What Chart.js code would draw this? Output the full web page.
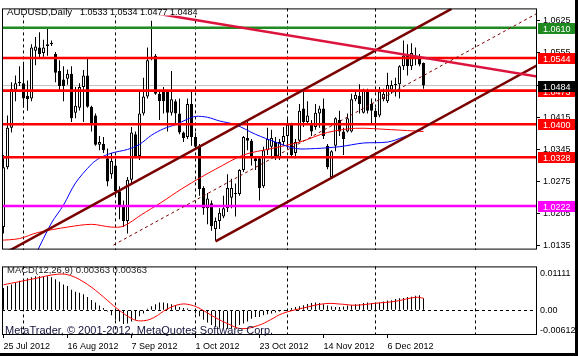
<!DOCTYPE html>
<html><head><meta charset="utf-8">
<script src="https://cdn.jsdelivr.net/npm/chart.js@4.4.1/dist/chart.umd.min.js"></script>
<style>
html,body{margin:0;padding:0;background:#000;width:578px;height:356px;overflow:hidden;}
#wrap{position:absolute;left:0;top:0;width:575px;height:353px;background:#fff;}
canvas{position:absolute;left:0;}
#main{top:0;}
#macd{top:258px;}
</style></head><body>
<div id="wrap"><canvas id="main" width="575" height="258"></canvas><canvas id="macd" width="575" height="95"></canvas></div>
<script>
// ---------- data ----------
const symbolTitle = 'AUDUSD,Daily';
const dateLabels = ['25 Jul 2012','16 Aug 2012','7 Sep 2012','1 Oct 2012','23 Oct 2012','14 Nov 2012','6 Dec 2012'];
const dateIdx = [0,16,32,48,64,80,96];
const gridIdx = [5,28,48,71,93,118];
const priceTicks = [1.0625,1.0555,1.0485,1.0415,1.0345,1.0275,1.0205,1.0135];
const macdTicks = [0.01111,0,-0.00612];
const macdTickLabels = ['0.01111','0.00','-0.00612'];

const opens = [1.0176,1.0306,1.0392,1.0475,1.0489,1.0489,1.0462,1.0456,1.0560,1.0567,
1.0555,1.0570,1.0577,1.0553,1.0516,1.0497,1.0499,1.0510,1.0425,1.0436,
1.0481,1.0506,1.0438,1.0419,1.0355,1.0357,1.0326,1.0291,1.0310,1.0254,
1.0224,1.0189,1.0279,1.0378,1.0331,1.0423,1.0460,1.0543,1.0549,1.0466,
1.0471,1.0471,1.0425,1.0450,1.0423,1.0382,1.0372,1.0444,1.0372,1.0353,
1.0261,1.0217,1.0228,1.0172,1.0189,1.0199,1.0217,1.0240,1.0248,1.0248,
1.0300,1.0370,1.0364,1.0326,1.0326,1.0265,1.0343,1.0351,1.0361,1.0326,
1.0361,1.0374,1.0399,1.0337,1.0364,1.0434,1.0405,1.0403,1.0394,1.0423,
1.0434,1.0353,1.0285,1.0353,1.0409,1.0384,1.0384,1.0384,1.0454,1.0462,
1.0425,1.0473,1.0444,1.0429,1.0419,1.0454,1.0450,1.0475,1.0485,1.0487,
1.0526,1.0549,1.0526,1.0547,1.0547,1.0533];
const highs = [1.0333,1.0419,1.0491,1.0506,1.0526,1.0536,1.0495,1.0574,1.0590,1.0600,
1.0584,1.0609,1.0582,1.0557,1.0539,1.0526,1.0519,1.0526,1.0481,1.0489,
1.0518,1.0543,1.0440,1.0423,1.0374,1.0372,1.0347,1.0337,1.0320,1.0265,
1.0234,1.0285,1.0394,1.0384,1.0471,1.0501,1.0567,1.0625,1.0553,1.0475,
1.0481,1.0475,1.0516,1.0454,1.0456,1.0384,1.0456,1.0471,1.0382,1.0357,
1.0265,1.0250,1.0234,1.0197,1.0217,1.0244,1.0291,1.0281,1.0271,1.0302,
1.0374,1.0409,1.0368,1.0331,1.0331,1.0351,1.0392,1.0388,1.0372,1.0368,
1.0394,1.0413,1.0403,1.0368,1.0444,1.0475,1.0450,1.0409,1.0444,1.0440,
1.0456,1.0357,1.0343,1.0415,1.0429,1.0392,1.0423,1.0466,1.0471,1.0487,
1.0477,1.0477,1.0456,1.0436,1.0481,1.0477,1.0512,1.0495,1.0501,1.0528,
1.0582,1.0574,1.0576,1.0567,1.0553,1.0534];
const lows = [1.0162,1.0302,1.0382,1.0450,1.0483,1.0436,1.0429,1.0450,1.0528,1.0543,
1.0547,1.0549,1.0570,1.0491,1.0471,1.0450,1.0486,1.0405,1.0413,1.0430,
1.0405,1.0436,1.0384,1.0353,1.0343,1.0337,1.0265,1.0281,1.0244,1.0193,
1.0176,1.0162,1.0271,1.0326,1.0322,1.0419,1.0456,1.0539,1.0464,1.0409,
1.0423,1.0384,1.0419,1.0399,1.0378,1.0361,1.0368,1.0353,1.0347,1.0244,
1.0203,1.0182,1.0168,1.0147,1.0172,1.0195,1.0209,1.0217,1.0199,1.0244,
1.0296,1.0343,1.0310,1.0300,1.0234,1.0261,1.0333,1.0326,1.0322,1.0322,
1.0353,1.0347,1.0331,1.0326,1.0361,1.0394,1.0399,1.0374,1.0388,1.0392,
1.0368,1.0302,1.0281,1.0341,1.0374,1.0333,1.0382,1.0382,1.0450,1.0423,
1.0423,1.0423,1.0399,1.0388,1.0415,1.0450,1.0446,1.0466,1.0460,1.0456,
1.0518,1.0506,1.0518,1.0528,1.0526,1.0477];
const closes = [1.0306,1.0392,1.0477,1.0489,1.0492,1.0456,1.0454,1.0567,1.0569,1.0553,
1.0567,1.0574,1.0574,1.0512,1.0483,1.0483,1.0510,1.0413,1.0440,1.0481,
1.0506,1.0438,1.0399,1.0355,1.0361,1.0343,1.0275,1.0320,1.0254,1.0224,
1.0189,1.0279,1.0382,1.0331,1.0423,1.0460,1.0539,1.0547,1.0466,1.0450,
1.0450,1.0425,1.0454,1.0423,1.0382,1.0370,1.0444,1.0372,1.0351,1.0259,
1.0217,1.0238,1.0178,1.0189,1.0207,1.0217,1.0261,1.0261,1.0250,1.0300,
1.0372,1.0364,1.0326,1.0320,1.0261,1.0343,1.0368,1.0370,1.0326,1.0361,
1.0374,1.0399,1.0333,1.0361,1.0429,1.0405,1.0419,1.0384,1.0425,1.0434,
1.0374,1.0306,1.0341,1.0413,1.0384,1.0368,1.0413,1.0454,1.0464,1.0444,
1.0473,1.0429,1.0429,1.0415,1.0471,1.0466,1.0485,1.0485,1.0487,1.0526,
1.0549,1.0526,1.0555,1.0549,1.0530,1.0484];

const blueIdx = [8,12,15,18,22,24,27,31,34,37,40,43,46,48,51,54,58,63,68,73,78,84,90,96,100,105];
const blueVal = [1.0116,1.0185,1.0224,1.0272,1.0313,1.0326,1.0337,1.0345,1.0356,1.0376,1.0390,1.0399,1.0411,1.0417,1.0415,1.0407,1.0399,1.0378,1.0361,1.0347,1.0347,1.0351,1.0359,1.0361,1.0372,1.0390];
const redIdx = [-1,4,8.5,16,22,27,30,34.5,39.5,44.5,49.5,53,60,67,74,81,88,97,105];
const redVal = [1.0147,1.0151,1.0164,1.0176,1.0182,1.0176,1.0178,1.0203,1.0230,1.0259,1.0285,1.0302,1.0333,1.0347,1.0361,1.0382,1.0391,1.0388,1.0384];

const levelVals = [1.0610,1.0544,1.0473,1.0400,1.0328,1.0222];
const levelColors = ['#1f8a1f','#ff0000','#ff0000','#ff0000','#ff0000','#ff00ff'];
const bidPrice = 1.0484;

const chanUpperIdx = [-1,112];   const chanUpperVal = [1.0113,1.0651];
const chanLowerIdx = [53,134];   const chanLowerVal = [1.0145,1.0531];
const chanMidIdx = [27.5,134];   const chanMidVal = [1.0137,1.0644];
const crimsonIdx = [31.75,134];  const crimsonVal = [1.0650,1.0503];

const macdHist = [0.0067,0.0073,0.0078,0.0083,0.0089,0.0094,0.0097,0.0100,0.0103,0.0103,
0.0103,0.0103,0.0100,0.0094,0.0086,0.0078,0.0073,0.0062,0.0056,0.0053,
0.0048,0.0040,0.0031,0.0023,0.0014,0.0007,-0.0004,-0.0015,-0.0029,-0.0034,
-0.0042,-0.0040,-0.0034,-0.0029,-0.0018,-0.0010,0.0004,0.0012,0.0018,0.0023,
0.0023,0.0021,0.0018,0.0015,0.0010,0.0007,0.0005,0.0001,-0.0010,-0.0018,
-0.0029,-0.0037,-0.0045,-0.0051,-0.0053,-0.0056,-0.0056,-0.0056,-0.0053,-0.0045,
-0.0040,-0.0034,-0.0026,-0.0021,-0.0021,-0.0015,-0.0012,-0.0010,-0.0007,-0.0004,
-0.0001,0.0001,0.0007,0.0010,0.0012,0.0015,0.0019,0.0022,0.0023,0.0022,
0.0018,0.0014,0.0011,0.0010,0.0010,0.0011,0.0014,0.0015,0.0018,0.0019,
0.0022,0.0023,0.0022,0.0022,0.0023,0.0026,0.0029,0.0030,0.0034,0.0036,
0.0037,0.0040,0.0041,0.0044,0.0045,0.00363];
const signalIdx = [0,7.5,13.5,16.75,21,25,28.5,32.5,35,37.5,41,44.25,46.75,49.25,52.75,56.25,59.5,63.75,66.75,69.75,74.75,80.5,84.75,88,93,98,103,105];
const signalVal = [0.0077,0.0095,0.0109,0.0105,0.0078,0.0040,0.0004,-0.0028,-0.0032,-0.0023,0.0004,0.0018,0.0016,0.0004,-0.0021,-0.0042,-0.0056,-0.0046,-0.0029,-0.0010,0.0006,0.0020,0.0018,0.0015,0.0021,0.0027,0.0039,0.00363];

// ---------- view settings ----------
const xMin = -0.375, xMax = xMin + 535/4;
const yMin = 1.0127, yMax = 1.0652;
const macdMin = -0.00752, macdMax = 0.01327;
const FONT = '"Liberation Sans", Arial, sans-serif';
Chart.defaults.font.family = FONT;
Chart.defaults.font.size = 9;
Chart.defaults.color = '#000';

const pts = (xs, ys) => xs.map((x, i) => ({x, y: ys[i]}));
const lineDs = (data, color, width, order, extra) => Object.assign({
  type: 'line', data, borderColor: color, borderWidth: width, pointRadius: 0,
  fill: false, tension: 0, order, clip: 0
}, extra || {});

const datasets = [];
datasets.push(lineDs(pts([xMin, xMax], [bidPrice, bidPrice]), '#c0c0c0', 1, 100));
datasets.push({type: 'bar', data: highs.map((h, i) => ({x: i, y: [lows[i], h]})),
  backgroundColor: '#000', borderWidth: 0, barThickness: 1, grouped: false, inflateAmount: 0, order: 90, clip: 0});
datasets.push({type: 'bar', data: opens.map((o, i) => ({x: i, y: [Math.min(o, closes[i]), Math.max(o, closes[i])]})),
  backgroundColor: opens.map((o, i) => closes[i] >= o ? '#fff' : '#000'), borderColor: '#000', borderWidth: 1,
  borderSkipped: false, barThickness: 3, minBarLength: 1, grouped: false, inflateAmount: 0, order: 80, clip: 0});
datasets.push(lineDs(pts(redIdx, redVal), '#ff0000', 1, 50, {tension: 0.3}));
datasets.push(lineDs(pts(blueIdx, blueVal), '#0000ff', 1, 49, {tension: 0.3}));
levelVals.forEach((v, i) => datasets.push(lineDs(pts([xMin, xMax], [v, v]), levelColors[i], 2.6, 20)));
datasets.push(lineDs(pts(chanUpperIdx, chanUpperVal), '#7a0000', 2.5, 10));
datasets.push(lineDs(pts(chanLowerIdx, chanLowerVal), '#7a0000', 2.5, 10));
datasets.push(lineDs(pts(chanMidIdx, chanMidVal), '#800000', 1, 10, {borderDash: [3, 3]}));
datasets.push(lineDs(pts(crimsonIdx, crimsonVal), '#dc143c', 2.5, 5));

const mainPlugin = {
  id: 'mainDeco',
  afterDraw(chart) {
    const ctx = chart.ctx, y = chart.scales.y, a = chart.chartArea;
    ctx.save();
    // title
    ctx.fillStyle = '#fff';
    ctx.fillRect(5, 5, 197, 10.5);
    ctx.fillStyle = '#000';
    ctx.textBaseline = 'alphabetic';
    ctx.font = '9.7px ' + FONT;
    ctx.fillText(symbolTitle, 7, 14.5);
    const n = closes.length - 1;
    ctx.font = '9px ' + FONT;
    ctx.fillText([opens[n], highs[n], lows[n], closes[n]].map(v => v.toFixed(4)).join(' '), 80, 14.5);
    // price labels
    const box = (v, color) => {
      const py = Math.round(y.getPixelForValue(v));
      ctx.fillStyle = color;
      ctx.fillRect(538, py - 5, 37, 11);
      ctx.fillStyle = '#fff';
      ctx.fillText(v.toFixed(4), 543, py + 3.5);
    };
    levelVals.forEach((v, i) => box(v, levelColors[i]));
    box(bidPrice, '#000');
    // frame
    ctx.strokeStyle = '#000'; ctx.lineWidth = 1;
    ctx.strokeRect(a.left + 0.5, a.top + 0.5, a.right - a.left - 1, a.bottom - a.top - 1);
    ctx.restore();
  }
};

new Chart(document.getElementById('main'), {
  type: 'bar',
  data: {datasets},
  options: {
    responsive: false, animation: false, devicePixelRatio: 1,
    layout: {padding: {left: 2, top: 2, right: 0, bottom: 1}},
    plugins: {legend: {display: false}, tooltip: {enabled: false}},
    scales: {
      x: {type: 'linear', min: xMin, max: xMax, offset: false,
        afterBuildTicks: s => { s.ticks = gridIdx.map(v => ({value: v})); },
        afterFit: s => { s.height = 0; },
        ticks: {display: false},
        grid: {offset: false, color: '#000', lineWidth: 1, drawTicks: false},
        border: {display: false, dash: [3, 3]}},
      y: {type: 'linear', position: 'right', min: yMin, max: yMax, beginAtZero: false,
        afterBuildTicks: s => { s.ticks = priceTicks.map(v => ({value: v})); },
        afterFit: s => { s.width = 38; },
        ticks: {padding: 3, color: '#000', font: {size: 9}, autoSkip: false, callback: v => v.toFixed(4)},
        grid: {drawOnChartArea: false, drawTicks: true, tickLength: 3, tickColor: '#000'},
        border: {display: false}}
    }
  },
  plugins: [mainPlugin]
});

const macdPlugin = {
  id: 'macdDeco',
  afterDraw(chart) {
    const ctx = chart.ctx, a = chart.chartArea;
    ctx.save();
    ctx.textBaseline = 'alphabetic';
    ctx.fillStyle = '#222';
    ctx.font = '9.5px ' + FONT;
    const n = macdHist.length - 1;
    ctx.fillText('MACD(12,26,9) ' + macdHist[n].toFixed(5) + ' ' + signalVal[signalVal.length - 1].toFixed(5), 7, 15.3);
    ctx.fillStyle = '#14143c';
    ctx.font = '11px ' + FONT;
    ctx.fillText('MetaTrader, \u00a9 2001-2012, MetaQuotes Software Corp.', 5, 75.5);
    ctx.strokeStyle = '#000'; ctx.lineWidth = 1;
    ctx.strokeRect(a.left + 0.5, a.top + 0.5, a.right - a.left - 1, a.bottom - a.top - 1);
    ctx.restore();
  }
};

new Chart(document.getElementById('macd'), {
  type: 'bar',
  data: {datasets: [
    lineDs(pts(signalIdx, signalVal), '#ff0000', 1, 0, {tension: 0.4}),
    {type: 'bar', data: macdHist.map((v, i) => ({x: i, y: v})), backgroundColor: '#000', borderWidth: 0,
      barThickness: 1, grouped: false, inflateAmount: 0, order: 1, clip: 0}
  ]},
  options: {
    responsive: false, animation: false, devicePixelRatio: 1,
    layout: {padding: {left: 2, top: 1, right: 0, bottom: 0}},
    plugins: {legend: {display: false}, tooltip: {enabled: false}},
    scales: {
      x: {type: 'linear', min: xMin, max: xMax, offset: false,
        afterBuildTicks: s => { s.ticks = dateIdx.map(v => ({value: v})); },
        afterFit: s => { s.height = 18; },
        ticks: {align: 'start', maxRotation: 0, minRotation: 0, autoSkip: false, padding: 3, color: '#000', font: {size: 9},
          callback: (v, i) => dateLabels[i]},
        grid: {offset: false, drawOnChartArea: false, drawTicks: true, tickLength: 3, tickColor: '#000', color: '#000'},
        border: {display: false}},
      xg: {type: 'linear', position: 'bottom', min: xMin, max: xMax, offset: false,
        afterBuildTicks: s => { s.ticks = gridIdx.map(v => ({value: v})); },
        afterFit: s => { s.height = 0; },
        ticks: {display: false},
        grid: {offset: false, color: '#000', drawTicks: false},
        border: {display: false, dash: [3, 3]}},
      y: {type: 'linear', position: 'right', min: macdMin, max: macdMax, beginAtZero: false,
        afterBuildTicks: s => { s.ticks = macdTicks.map(v => ({value: v})); },
        afterFit: s => { s.width = 38; },
        ticks: {padding: 3, color: '#000', font: {size: 9}, autoSkip: false, callback: (v, i) => macdTickLabels[i]},
        grid: {color: c => (c.tick && c.tick.value === 0) ? '#000' : 'rgba(0,0,0,0)', drawTicks: false},
        border: {display: false, dash: [3, 3]}}
    }
  },
  plugins: [macdPlugin]
});
</script>
</body></html>
